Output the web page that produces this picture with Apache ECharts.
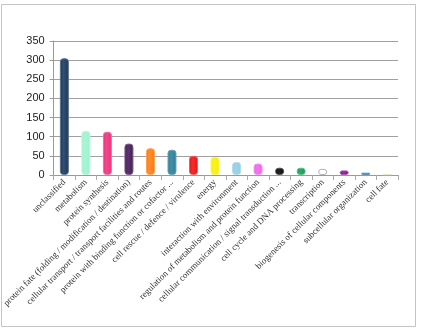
<!DOCTYPE html>
<html>
<head>
<meta charset="utf-8">
<script src="https://cdn.jsdelivr.net/npm/echarts@6/dist/echarts.min.js"></script>
<style>
  html, body { margin: 0; padding: 0; background: #fff; }
  #chart { width: 421px; height: 333px; }
</style>
</head>
<body>
<div id="chart"></div>
<script>
// categories as printed under the axis (long ones are cut off in the original)
var categories = [
  'unclassified',
  'metabolism',
  'protein synthesis',
  'protein fate (folding / modification / destination)',
  'cellular transport / transport facilities and routes',
  'protein with binding function or cofactor ...',
  'cell rescue / defence / virulence',
  'energy',
  'interaction with environment',
  'regulation of metabolism and protein function',
  'cellular communication / signal transduction ...',
  'cell cycle and DNA processing',
  'transcription',
  'biogenesis of cellular components',
  'subcellular organization',
  'cell fate'
]
var counts = [305, 115, 113, 82, 70, 66, 50, 47, 34, 30, 19, 19, 16, 12, 6, 2]
var barColors = [
  '#17375e', '#9cf2cf', '#ef2f7c', '#461a58', '#ff7c10', '#2c7f98',
  '#f01010', '#f8f000', '#92cce4', '#ee64ec', '#080808', '#10a050',
  '#ffffff', '#84108c', '#1464a4', '#d8dcb4'
]
var yTicks = [0, 50, 100, 150, 200, 250, 300, 350]

var chart = echarts.init(document.getElementById('chart'))

// lighter edge so the bars look a bit like cylinders
function shade (hex, k) {
  var n = parseInt(hex.slice(1), 16)
  var r = (n >> 16) & 255, g = (n >> 8) & 255, b = n & 255
  r = Math.round(r + (255 - r) * k)
  g = Math.round(g + (255 - g) * k)
  b = Math.round(b + (255 - b) * k)
  return 'rgb(' + r + ',' + g + ',' + b + ')'
}

var seriesData = counts.map(function (v, i) {
  var c = barColors[i]
  return {
    value: v,
    itemStyle: {
      color: new echarts.graphic.LinearGradient(0, 0, 1, 0, [
        { offset: 0, color: c },
        { offset: 0.4, color: shade(c, 0.12) },
        { offset: 1, color: c }
      ]),
      borderColor: c === '#ffffff' ? '#b0b0b0' : shade(c, 0.3),
      borderWidth: 1,
      borderRadius: [3, 3, 3, 3]
    }
  }
})

var option = {
  animation: false,
  backgroundColor: '#fff',
  graphic: [
    {
      type: 'rect',
      shape: { x: 1.5, y: 4.5, width: 414, height: 322 },
      style: { fill: 'none', stroke: '#c4c4c4', lineWidth: 1 },
      silent: true
    }
  ],
  grid: {
    left: 50,
    right: 23,
    top: 41,
    bottom: 158
  },
  xAxis: {
    type: 'category',
    data: categories,
    axisLine: { lineStyle: { color: '#999' } },
    axisTick: { show: true, alignWithLabel: false, lineStyle: { color: '#aaa' } },
    axisLabel: {
      interval: 0,
      rotate: 45,
      margin: 6,
      fontFamily: 'Liberation Serif',
      fontSize: 9,
      color: '#333'
    }
  },
  yAxis: {
    type: 'value',
    min: 0,
    max: 350,
    interval: 50,
    axisLine: { show: true, lineStyle: { color: '#999' } },
    axisTick: { show: true, length: 4, lineStyle: { color: '#999' } },
    splitLine: { lineStyle: { color: '#a0a0a0', width: 1 } },
    axisLabel: {
      fontFamily: 'Liberation Sans',
      fontSize: 11,
      color: '#222',
      margin: 9,
      formatter: function (v) { return yTicks.indexOf(v) >= 0 ? String(v) : '' }
    }
  },
  series: [
    {
      type: 'bar',
      barWidth: 9,
      data: seriesData
    }
  ]
}

chart.setOption(option)
</script>
</body>
</html>
